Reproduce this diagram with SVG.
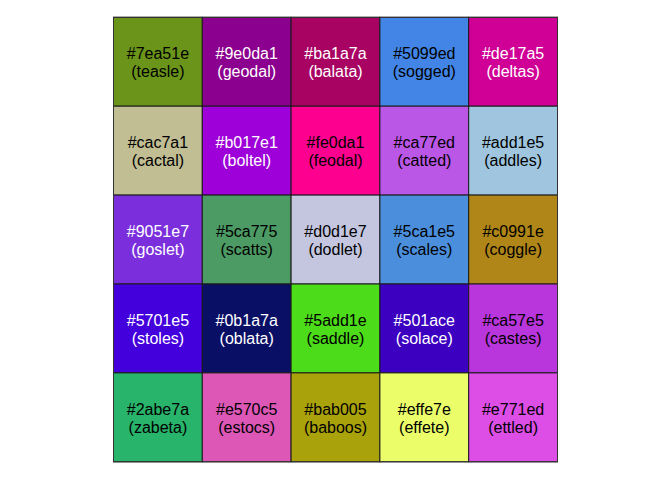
<svg xmlns="http://www.w3.org/2000/svg" width="672" height="480" viewBox="0 0 672 480">
<style>
rect.c{stroke:#1a1a1a;stroke-width:1}
text{font-family:"Liberation Sans",Arial,sans-serif;font-size:16px;text-anchor:middle}
.d{fill:#000}
.l{fill:#fff}
</style>
<rect width="672" height="480" fill="#fff"/>
<g id="n-7ea51e"><rect class="c" x="113.5" y="17.3" width="88.8" height="88.9" fill="#6b951a"/><text class="d"><tspan x="157.9" y="59">#7ea51e</tspan><tspan x="157.9" y="77">(teasle)</tspan></text></g>
<g id="n-9e0da1"><rect class="c" x="202.3" y="17.3" width="88.8" height="88.9" fill="#8b008e"/><text class="l"><tspan x="246.7" y="59">#9e0da1</tspan><tspan x="246.7" y="77">(geodal)</tspan></text></g>
<g id="n-ba1a7a"><rect class="c" x="291.1" y="17.3" width="88.8" height="88.9" fill="#a80262"/><text class="l"><tspan x="335.5" y="59">#ba1a7a</tspan><tspan x="335.5" y="77">(balata)</tspan></text></g>
<g id="n-5099ed"><rect class="c" x="379.9" y="17.3" width="88.8" height="88.9" fill="#4285e6"/><text class="d"><tspan x="424.3" y="59">#5099ed</tspan><tspan x="424.3" y="77">(sogged)</tspan></text></g>
<g id="n-de17a5"><rect class="c" x="468.7" y="17.3" width="88.8" height="88.9" fill="#d00096"/><text class="l"><tspan x="513.1" y="59">#de17a5</tspan><tspan x="513.1" y="77">(deltas)</tspan></text></g>

<g id="n-cac7a1"><rect class="c" x="113.5" y="106.2" width="88.8" height="88.9" fill="#c0be92"/><text class="d"><tspan x="157.9" y="147.9">#cac7a1</tspan><tspan x="157.9" y="165.9">(cactal)</tspan></text></g>
<g id="n-b017e1"><rect class="c" x="202.3" y="106.2" width="88.8" height="88.9" fill="#9e00d9"/><text class="l"><tspan x="246.7" y="147.9">#b017e1</tspan><tspan x="246.7" y="165.9">(boltel)</tspan></text></g>
<g id="n-fe0da1"><rect class="c" x="291.1" y="106.2" width="88.8" height="88.9" fill="#fd008f"/><text class="d"><tspan x="335.5" y="147.9">#fe0da1</tspan><tspan x="335.5" y="165.9">(feodal)</tspan></text></g>
<g id="n-ca77ed"><rect class="c" x="379.9" y="106.2" width="88.8" height="88.9" fill="#bb57e6"/><text class="d"><tspan x="424.3" y="147.9">#ca77ed</tspan><tspan x="424.3" y="165.9">(catted)</tspan></text></g>
<g id="n-add1e5"><rect class="c" x="468.7" y="106.2" width="88.8" height="88.9" fill="#9fc6de"/><text class="d"><tspan x="513.1" y="147.9">#add1e5</tspan><tspan x="513.1" y="165.9">(addles)</tspan></text></g>

<g id="n-9051e7"><rect class="c" x="113.5" y="195.1" width="88.8" height="88.9" fill="#7b2fdc"/><text class="l"><tspan x="157.9" y="236.8">#9051e7</tspan><tspan x="157.9" y="254.8">(goslet)</tspan></text></g>
<g id="n-5ca775"><rect class="c" x="202.3" y="195.1" width="88.8" height="88.9" fill="#4c9a64"/><text class="d"><tspan x="246.7" y="236.8">#5ca775</tspan><tspan x="246.7" y="254.8">(scatts)</tspan></text></g>
<g id="n-d0d1e7"><rect class="c" x="291.1" y="195.1" width="88.8" height="88.9" fill="#c4c6e0"/><text class="d"><tspan x="335.5" y="236.8">#d0d1e7</tspan><tspan x="335.5" y="254.8">(dodlet)</tspan></text></g>
<g id="n-5ca1e5"><rect class="c" x="379.9" y="195.1" width="88.8" height="88.9" fill="#4a8edc"/><text class="d"><tspan x="424.3" y="236.8">#5ca1e5</tspan><tspan x="424.3" y="254.8">(scales)</tspan></text></g>
<g id="n-c0991e"><rect class="c" x="468.7" y="195.1" width="88.8" height="88.9" fill="#b08618"/><text class="d"><tspan x="513.1" y="236.8">#c0991e</tspan><tspan x="513.1" y="254.8">(coggle)</tspan></text></g>

<g id="n-5701e5"><rect class="c" x="113.5" y="284" width="88.8" height="88.9" fill="#4300dc"/><text class="l"><tspan x="157.9" y="325.7">#5701e5</tspan><tspan x="157.9" y="343.7">(stoles)</tspan></text></g>
<g id="n-0b1a7a"><rect class="c" x="202.3" y="284" width="88.8" height="88.9" fill="#0a0f66"/><text class="l"><tspan x="246.7" y="325.7">#0b1a7a</tspan><tspan x="246.7" y="343.7">(oblata)</tspan></text></g>
<g id="n-5add1e"><rect class="c" x="291.1" y="284" width="88.8" height="88.9" fill="#4ddc1a"/><text class="d"><tspan x="335.5" y="325.7">#5add1e</tspan><tspan x="335.5" y="343.7">(saddle)</tspan></text></g>
<g id="n-501ace"><rect class="c" x="379.9" y="284" width="88.8" height="88.9" fill="#3b00c0"/><text class="l"><tspan x="424.3" y="325.7">#501ace</tspan><tspan x="424.3" y="343.7">(solace)</tspan></text></g>
<g id="n-ca57e5"><rect class="c" x="468.7" y="284" width="88.8" height="88.9" fill="#b936dc"/><text class="d"><tspan x="513.1" y="325.7">#ca57e5</tspan><tspan x="513.1" y="343.7">(castes)</tspan></text></g>

<g id="n-2abe7a"><rect class="c" x="113.5" y="372.9" width="88.8" height="88.9" fill="#28b46a"/><text class="d"><tspan x="157.9" y="414.6">#2abe7a</tspan><tspan x="157.9" y="432.6">(zabeta)</tspan></text></g>
<g id="n-e570c5"><rect class="c" x="202.3" y="372.9" width="88.8" height="88.9" fill="#dc57b6"/><text class="d"><tspan x="246.7" y="414.6">#e570c5</tspan><tspan x="246.7" y="432.6">(estocs)</tspan></text></g>
<g id="n-bab005"><rect class="c" x="291.1" y="372.9" width="88.8" height="88.9" fill="#aaa20b"/><text class="d"><tspan x="335.5" y="414.6">#bab005</tspan><tspan x="335.5" y="432.6">(baboos)</tspan></text></g>
<g id="n-effe7e"><rect class="c" x="379.9" y="372.9" width="88.8" height="88.9" fill="#ebfe6a"/><text class="d"><tspan x="424.3" y="414.6">#effe7e</tspan><tspan x="424.3" y="432.6">(effete)</tspan></text></g>
<g id="n-e771ed"><rect class="c" x="468.7" y="372.9" width="88.8" height="88.9" fill="#dc4ee6"/><text class="d"><tspan x="513.1" y="414.6">#e771ed</tspan><tspan x="513.1" y="432.6">(ettled)</tspan></text></g>
<g id="connectors"/>
<rect x="113.5" y="17.3" width="444" height="444.5" fill="none" stroke="#333" stroke-width="1"/>
</svg>
